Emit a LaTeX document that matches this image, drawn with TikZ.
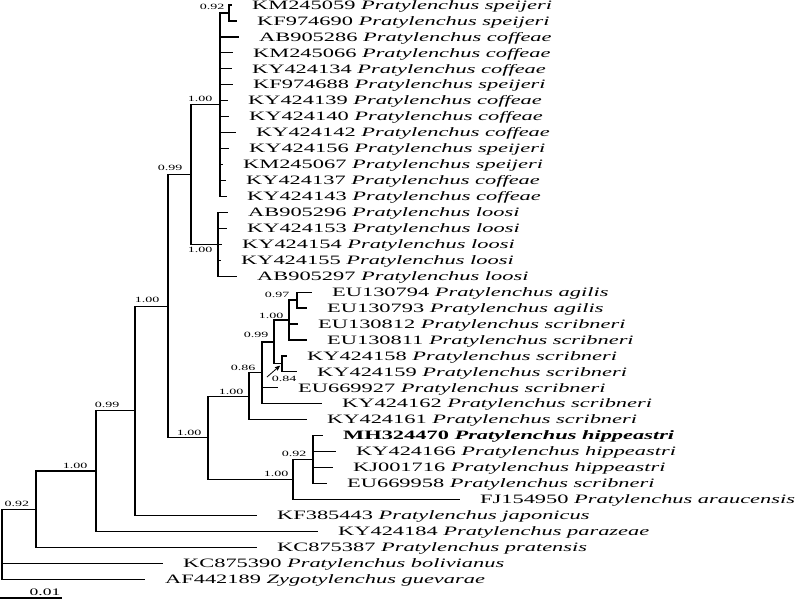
\documentclass[tikz,border=0pt]{standalone}
\usepackage{fontspec}
\setmainfont{Liberation Serif}[FakeStretch=1.75]
\usetikzlibrary{arrows}
\newcommand{\taxsize}{\fontsize{12.8}{14}\selectfont}
\newcommand{\suppsize}{\fontsize{8}{9}\selectfont}
\tikzset{
    %Define standard arrow tip
    >=stealth',
    %Define style for taxon names
    taxon/.style={
           anchor=west,
           inner xsep=20pt,
           inner ysep=0pt,
           text height=8.4pt,
           text depth=0pt,
           font=\taxsize},
    % Define style for support values
    supp/.style={
           inner sep=0pt,
           font=\suppsize}
}

\begin{document}
\begin{tikzpicture}[x=1pt, y=-1pt]
\useasboundingbox (0,0) rectangle (800,600);

% Style for branches
\tikzstyle{branch}=[line width=1.2pt]

% Inner nodes of the tree
\coordinate (root) at (2,544.2);
\coordinate (nM) at (36,509.19);
\coordinate (nJ) at (96,471.07);
\coordinate (nK) at (135,410.79);
\coordinate (nL) at (168,306.18);
\coordinate (nN) at (191,174.47);
\coordinate (nP) at (220,104.69);
\coordinate (nT) at (229,12.98);
\coordinate (nQ) at (218,244.25);
\coordinate (nA) at (208,437.89);
\coordinate (nB) at (249,396.27);
\coordinate (nC) at (262,372.85);
\coordinate (nD) at (274,341.94);
\coordinate (nE) at (289,320);
\coordinate (nG) at (297,300.08);
\coordinate (nF) at (282,363.88);
\coordinate (nH) at (293,479.51);
\coordinate (nI) at (313,459.58);

% Taxa
\node[taxon] (t1) at (232,5) {KM245059 \textit{Pratylenchus speijeri}};
\node[taxon] (t2) at (237,20.95) {KF974690 \textit{Pratylenchus speijeri}};
\node[taxon] (t3) at (239,36.9) {AB905286 \textit{Pratylenchus coffeae}};
\node[taxon] (t4) at (233,52.85) {KM245066 \textit{Pratylenchus coffeae}};
\node[taxon] (t5) at (232,68.8) {KY424134 \textit{Pratylenchus coffeae}};
\node[taxon] (t6) at (233,84.75) {KF974688 \textit{Pratylenchus speijeri}};
\node[taxon] (t7) at (228,100.7) {KY424139 \textit{Pratylenchus coffeae}};
\node[taxon] (t8) at (229,116.65) {KY424140 \textit{Pratylenchus coffeae}};
\node[taxon] (t9) at (236,132.6) {KY424142 \textit{Pratylenchus coffeae}};
\node[taxon] (t10) at (229,148.55) {KY424156 \textit{Pratylenchus speijeri}};
\node[taxon] (t11) at (223,164.5) {KM245067 \textit{Pratylenchus speijeri}};
\node[taxon] (t12) at (226,180.45) {KY424137 \textit{Pratylenchus coffeae}};
\node[taxon] (t13) at (227,196.4) {KY424143 \textit{Pratylenchus coffeae}};
\node[taxon] (t14) at (228,212.35) {AB905296 \textit{Pratylenchus loosi}};
\node[taxon] (t15) at (227,228.3) {KY424153 \textit{Pratylenchus loosi}};
\node[taxon] (t16) at (222,244.25) {KY424154 \textit{Pratylenchus loosi}};
\node[taxon] (t17) at (221,260.2) {KY424155 \textit{Pratylenchus loosi}};
\node[taxon] (t18) at (237,276.15) {AB905297 \textit{Pratylenchus loosi}};
\node[taxon] (t19) at (312,292.1) {EU130794 \textit{Pratylenchus agilis}};
\node[taxon] (t20) at (307,308.05) {EU130793 \textit{Pratylenchus agilis}};
\node[taxon] (t21) at (298,324) {EU130812 \textit{Pratylenchus scribneri}};
\node[taxon] (t22) at (307,339.95) {EU130811 \textit{Pratylenchus scribneri}};
\node[taxon] (t23) at (287,355.9) {KY424158 \textit{Pratylenchus scribneri}};
\node[taxon] (t24) at (297,371.85) {KY424159 \textit{Pratylenchus scribneri}};
\node[taxon] (t25) at (278,387.8) {EU669927 \textit{Pratylenchus scribneri}};
\node[taxon] (t26) at (322,403.75) {KY424162 \textit{Pratylenchus scribneri}};
\node[taxon] (t27) at (307,419.7) {KY424161 \textit{Pratylenchus scribneri}};
\node[taxon] (t28) at (323,435.65) {\textbf{MH324470 \textit{Pratylenchus hippeastri}}};
\node[taxon] (t29) at (336,451.6) {KY424166 \textit{Pratylenchus hippeastri}};
\node[taxon] (t30) at (333,467.55) {KJ001716 \textit{Pratylenchus hippeastri}};
\node[taxon] (t31) at (327,483.5) {EU669958 \textit{Pratylenchus scribneri}};
\node[taxon] (t32) at (460,499.45) {FJ154950 \textit{Pratylenchus araucensis}};
\node[taxon] (t33) at (257,515.4) {KF385443 \textit{Pratylenchus japonicus}};
\node[taxon] (t34) at (318,531.35) {KY424184 \textit{Pratylenchus parazeae}};
\node[taxon] (t35) at (257,547.3) {KC875387 \textit{Pratylenchus pratensis}};
\node[taxon] (t36) at (163,563.25) {KC875390 \textit{Pratylenchus bolivianus}};
\node[taxon] (t37) at (145,579.2) {AF442189 \textit{Zygotylenchus guevarae}};

% Support values
\node[supp] (b1) at (212,7) {0.92};
\node[supp] (b2) at (200,99) {1.00};
\node[supp] (b3) at (200,250) {1.00};
\node[supp] (b4) at (170,168) {0.99};
\node[supp] (b5) at (147,300) {1.00};
\node[supp] (b6) at (107,405) {0.99};
\node[supp] (b7) at (75,466) {1.00};
\node[supp] (b8) at (17,504) {0.92};
\node[supp] (b9) at (189,433) {1.00};
\node[supp] (b10) at (231,392) {1.00};
\node[supp] (b11) at (243,368) {0.86};
\node[supp] (b12) at (256,335) {0.99};
\node[supp] (b13) at (271,316) {1.00};
\node[supp] (b14) at (277,295) {0.97};
\node[supp] (b15) at (284,379) {0.84};
\node[supp] (b16) at (276,474) {1.00};
\node[supp] (b17) at (294,454) {0.92};

% Branches
\draw[branch] (root) |- (nM) (root) |- (t36.west) (root) |- (t37.west);
\draw[branch] (nM) |- (nJ) (nM) |- (t35.west);
\draw[branch] (nJ) |- (nK) (nJ) |- (t34.west);
\draw[branch] (nK) |- (nL) (nK) |- (t33.west);
\draw[branch] (nL) |- (nN) (nL) |- (nA);
\draw[branch] (nN) |- (nP) (nN) |- (nQ);
% coffeae / speijeri clade
\draw[branch] (nP) |- (nT) (nT) |- (t1.west) (nT) |- (t2.west);
\foreach \i in {3,...,13}
    \draw[branch] (nP) |- (t\i.west);
% loosi clade
\foreach \i in {14,...,18}
    \draw[branch] (nQ) |- (t\i.west);
% scribneri / hippeastri clade
\draw[branch] (nA) |- (nB) (nA) |- (nH);
\draw[branch] (nB) |- (nC) (nB) |- (t27.west);
\draw[branch] (nC) |- (nD) (nC) |- (t25.west) (nC) |- (t26.west);
\draw[branch] (nD) |- (nE) (nD) |- (nF);
\draw[branch] (nE) |- (nG) (nE) |- (t21.west) (nE) |- (t22.west);
\draw[branch] (nG) |- (t19.west) (nG) |- (t20.west);
\draw[branch] (nF) |- (t23.west) (nF) |- (t24.west);
\draw[branch] (nH) |- (nI) (nH) |- (t32.west);
\foreach \i in {28,...,31}
    \draw[branch] (nI) |- (t\i.west);

% pointer to the 0.84 node
\coordinate (arw) at (267,377);
\draw[->, line width=0.8pt, shorten >=3pt] (arw) -- (nF);

% scale bar
\coordinate (s0) at (0,598);
\coordinate (s1) at (62,598);
\draw[branch] (s0) -- (s1);
\node[inner sep=0pt, font=\fontsize{10}{11}\selectfont] (sbar) at (45,592) {0.01};

\end{tikzpicture}
\end{document}
